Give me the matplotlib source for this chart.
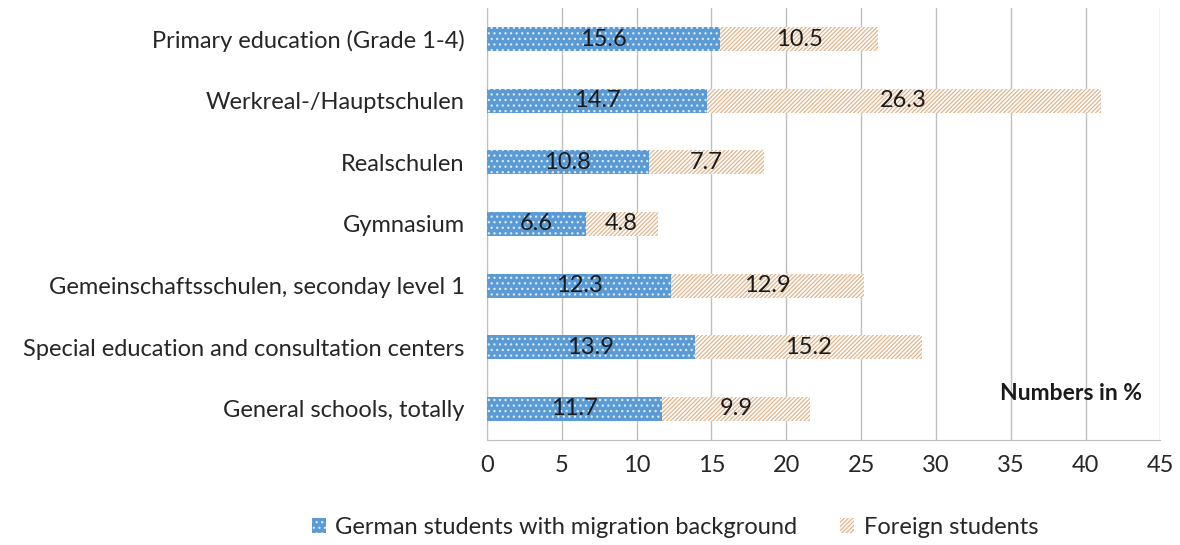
import numpy as np
import matplotlib
matplotlib.use("Agg")
import matplotlib.pyplot as plt

plt.rcParams['font.family'] = ['Lato', 'DejaVu Sans']

categories = [
    "Primary education (Grade 1-4)",
    "Werkreal-/Hauptschulen",
    "Realschulen",
    "Gymnasium",
    "Gemeinschaftsschulen, seconday level 1",
    "Special education and consultation centers",
    "General schools, totally",
]
german_migration = [15.6, 14.7, 10.8, 6.6, 12.3, 13.9, 11.7]
foreign = [10.5, 26.3, 7.7, 4.8, 12.9, 15.2, 9.9]
series_names = ["German students with migration background", "Foreign students"]
xticks = [0, 5, 10, 15, 20, 25, 30, 35, 40, 45]

fig = plt.figure(figsize=(11.8, 5.45), dpi=100)
ax = fig.add_axes([0.4127, 0.193, 0.5707, 0.792])

y = np.arange(len(categories))
h = 0.39
fs = 17

plt.rcParams['hatch.linewidth'] = 0.9
b1 = ax.barh(y, german_migration, height=h, color='#5B9BD5', edgecolor='#DCE9F6',
             hatch='...', linewidth=0, label=series_names[0], zorder=3)
b2 = ax.barh(y, foreign, left=german_migration, height=h, color='white',
             edgecolor='#E2B48C', hatch='////////', linewidth=0, label=series_names[1], zorder=3)

for i in range(len(categories)):
    ax.text(german_migration[i] / 2, y[i], f"{german_migration[i]:.1f}", ha='center', va='center',
            fontsize=fs, color='#1a1a1a', zorder=4)
    ax.text(german_migration[i] + foreign[i] / 2, y[i], f"{foreign[i]:.1f}", ha='center', va='center',
            fontsize=fs, color='#1a1a1a', zorder=4)

ax.set_xlim(0, 45)
ax.set_ylim(len(categories) - 0.5, -0.5)
ax.set_xticks(xticks)
ax.set_yticks(y)
ax.set_yticklabels(categories)
ax.tick_params(axis='both', length=0, labelsize=fs, colors='#262626')
ax.tick_params(axis='y', pad=16)
ax.tick_params(axis='x', pad=11)
ax.grid(axis='x', color='#BFBFBF', linewidth=1, zorder=0)
for s in ['top', 'right']:
    ax.spines[s].set_visible(False)
ax.spines['left'].set_color('#BFBFBF')
ax.spines['bottom'].set_color('#BFBFBF')

ax.text(39.0, 5.75, "Numbers in %", fontsize=16.5, fontweight='bold', ha='center', va='center',
        color='#1a1a1a', zorder=4)

fig.legend(handles=[b1, b2], loc='center', bbox_to_anchor=(0.572, 0.032), ncol=2, frameon=False,
           fontsize=fs, handlelength=0.6, handleheight=0.6, handletextpad=0.4, columnspacing=1.8,
           labelcolor='#262626')

fig.savefig("out.png", dpi=100)
